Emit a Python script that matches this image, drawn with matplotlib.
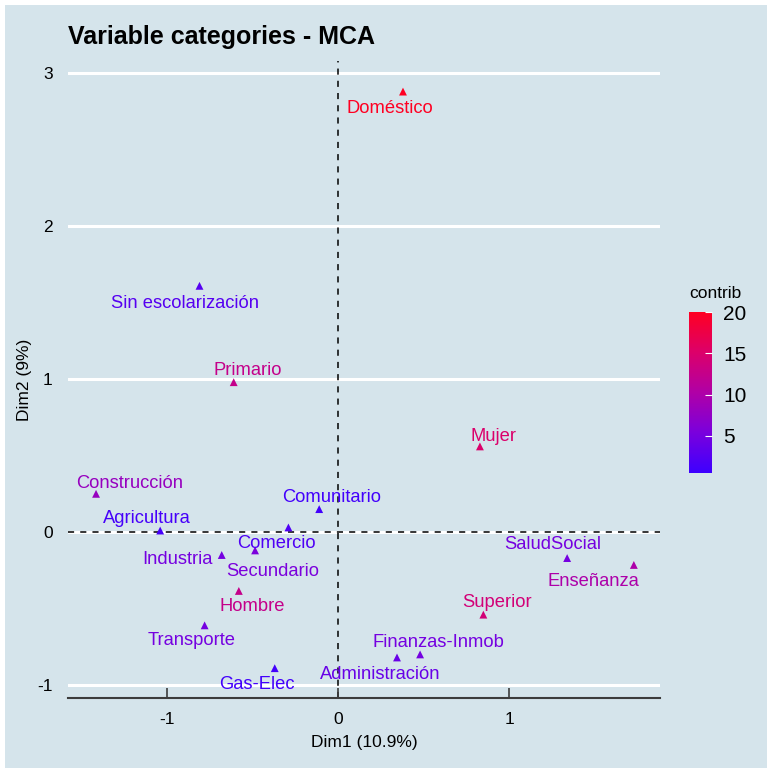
import numpy as np
import matplotlib
matplotlib.use("Agg")
import matplotlib.pyplot as plt
from matplotlib.colors import LinearSegmentedColormap, Normalize
from matplotlib.patches import Rectangle

plt.rcParams['font.family'] = ['Liberation Sans', 'DejaVu Sans']
plt.rcParams['axes.unicode_minus'] = False

# data
categories = ["Doméstico", "Sin escolarización", "Primario", "Mujer", "Construcción",
              "Comunitario", "Agricultura", "Comercio", "Industria", "Secundario",
              "Hombre", "Transporte", "Gas-Elec", "Administración", "Finanzas-Inmob",
              "SaludSocial", "Enseñanza", "Superior"]
dim1 = [0.38, -0.81, -0.61, 0.83, -1.415, -0.11, -1.04, -0.29, -0.68, -0.485,
        -0.58, -0.78, -0.37, 0.345, 0.48, 1.34, 1.73, 0.85]
dim2 = [2.88, 1.61, 0.98, 0.56, 0.25, 0.15, 0.01, 0.03, -0.15, -0.12,
        -0.385, -0.61, -0.89, -0.82, -0.80, -0.17, -0.215, -0.54]
contrib = [20.0, 2.5, 12.5, 15.0, 8.0, 1.0, 1.2, 2.0, 5.0, 5.5,
           12.5, 5.0, 1.0, 4.0, 5.0, 5.0, 10.0, 14.0]

# label placement (repel-like offsets in pixels)
offsets = {"Doméstico": (-13, -17), "Sin escolarización": (-14, -18), "Primario": (14, 12),
           "Mujer": (14, 10), "Construcción": (34, 10), "Comunitario": (12, 12),
           "Agricultura": (-13, 12), "Comercio": (-12, -16), "Industria": (-44, -5),
           "Secundario": (18, -21), "Hombre": (13, -16), "Transporte": (-13, -15),
           "Gas-Elec": (-18, -16), "Administración": (-17, -17), "Finanzas-Inmob": (18, 12),
           "SaludSocial": (-14, 14), "Enseñanza": (-40, -17), "Superior": (14, 12)}

bg = "#d5e4eb"
cmap = LinearSegmentedColormap.from_list(
    "contrib", ["#3d00ff", "#7a00dd", "#b000a6", "#dc006a", "#ff0022"])
norm = Normalize(vmin=0.5, vmax=20)

fig = plt.figure(figsize=(7.67, 7.68), dpi=100)
fig.patch.set_facecolor("white")
fig.patches.append(Rectangle((5 / 767, 0), 1, 1 - 5 / 768, transform=fig.transFigure,
                             facecolor=bg, edgecolor="none", zorder=-10))

ax = fig.add_axes([68 / 767, 1 - 698 / 768, (660 - 68) / 767, (698 - 61) / 768])
ax.set_facecolor(bg)
ax.set_xlim(-1.579, 1.883)
ax.set_ylim(-1.085, 3.08)

for yv in [-1, 0, 1, 2, 3]:
    ax.axhline(yv, color="white", lw=2.2, zorder=0)
ax.axhline(0, color="black", lw=1.1, ls=(0, (4, 4)), zorder=1)
ax.axvline(0, color="black", lw=1.1, ls=(0, (4, 4)), zorder=1)

sc = ax.scatter(dim1, dim2, c=contrib, cmap=cmap, norm=norm, marker="^", s=32,
                linewidths=0, zorder=3)

for name, x, y, c in zip(categories, dim1, dim2, contrib):
    dx, dy = offsets[name]
    ax.annotate(name, (x, y), xytext=(dx, dy), textcoords="offset pixels",
                ha="center", va="center", fontsize=13.2, color=cmap(norm(c)), zorder=4)

for s in ["top", "right", "left"]:
    ax.spines[s].set_visible(False)
ax.spines["bottom"].set_color("#3c3c3c")
ax.spines["bottom"].set_linewidth(1.5)
ax.set_xticks([-1, 0, 1])
ax.set_yticks([-1, 0, 1, 2, 3])
ax.tick_params(axis="x", direction="in", length=7, width=1.2, color="#3c3c3c",
               labelsize=12.5, pad=10)
ax.tick_params(axis="y", length=0, labelsize=12.5, pad=11)
ax.set_xlabel("Dim1 (10.9%)", fontsize=12.5, labelpad=6)
ax.set_ylabel("Dim2 (9%)", fontsize=12.5)
ax.yaxis.set_label_coords(-0.06, 0.5)
ax.set_title("Variable categories - MCA", loc="left", fontsize=18, fontweight="bold",
             pad=12)

cax = fig.add_axes([689 / 767, 1 - 473 / 768, 23 / 767, (473 - 312) / 768])
cb = fig.colorbar(sc, cax=cax)
cb.outline.set_visible(False)
cb.set_ticks([5, 10, 15, 20])
cax.tick_params(length=5, color="white", direction="in", labelsize=15, pad=8)
cax.text(0, 1.07, "contrib", transform=cax.transAxes, ha="left", va="bottom",
         fontsize=12.5)

fig.savefig("out.png", dpi=100, facecolor=fig.get_facecolor())
